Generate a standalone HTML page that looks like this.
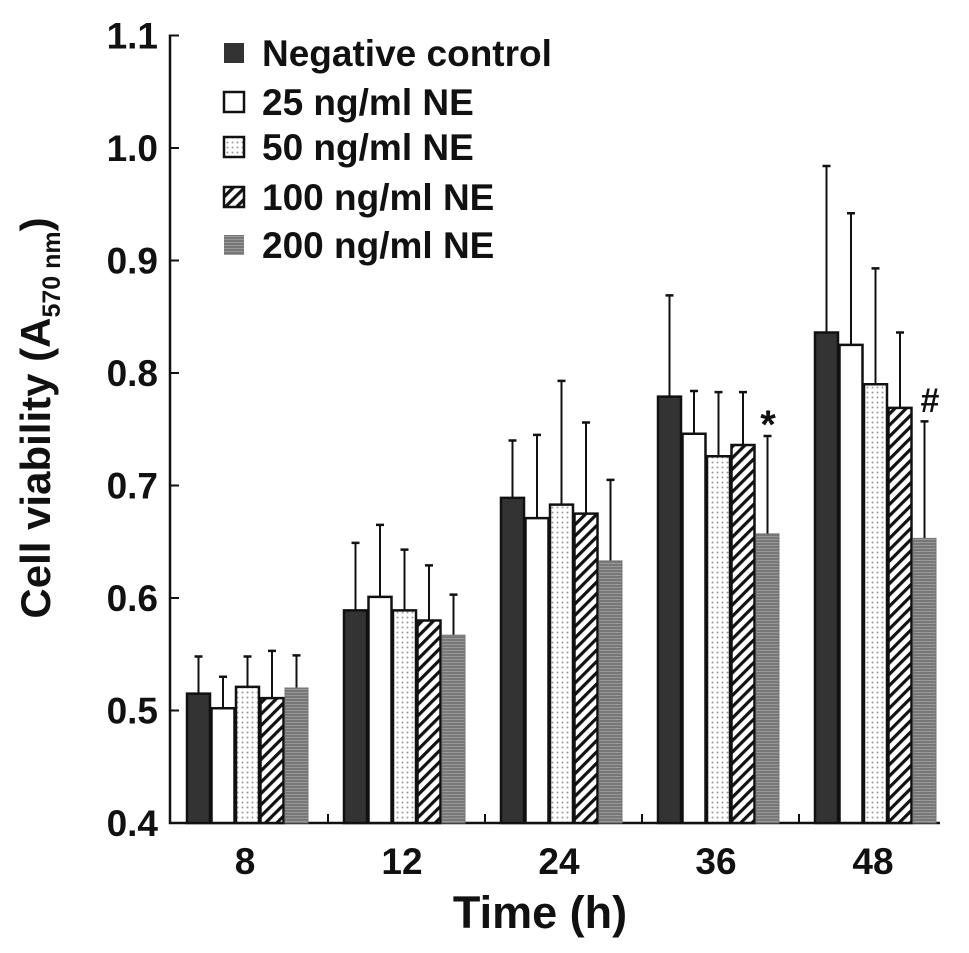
<!DOCTYPE html>
<html><head><meta charset="utf-8"><style>
html,body{margin:0;padding:0;background:#fff;}
svg{display:block;font-family:"Liberation Sans",Arial,sans-serif;font-weight:bold;}
</style></head><body>
<svg id="chart" width="969" height="953" viewBox="0 0 969 953" xmlns="http://www.w3.org/2000/svg">
<defs>
<pattern id="pDots" width="5" height="5" patternUnits="userSpaceOnUse"><rect width="5" height="5" fill="#fff"/><circle cx="2.5" cy="2.5" r="1" fill="#999"/></pattern>
<pattern id="pHatch" width="8" height="8" patternUnits="userSpaceOnUse" patternTransform="rotate(45)"><rect width="8" height="8" fill="#fff"/><rect width="3.2" height="8" fill="#111"/></pattern>
<pattern id="pGray" width="4" height="3" patternUnits="userSpaceOnUse"><rect width="4" height="3" fill="#777"/><rect y="2" width="4" height="1" fill="#999"/></pattern>
</defs>
<g id="axes"></g>
<g id="bars"></g>
<g id="legend"></g>
<text transform="translate(50,418) rotate(-90)" text-anchor="middle" font-size="42" fill="#111">Cell viability (A<tspan font-size="25" dy="10">570 nm</tspan><tspan dy="-10">)</tspan></text>
<text x="540" y="928" text-anchor="middle" font-size="45" fill="#111">Time (h)</text>
<text x="768" y="438" text-anchor="middle" font-size="40" fill="#111">*</text>
<text x="930" y="412" text-anchor="middle" font-size="34" fill="#111">#</text>
</svg>
<script>
const categories = ["8","12","24","36","48"];
const seriesNames = ["Negative control","25 ng/ml NE","50 ng/ml NE","100 ng/ml NE","200 ng/ml NE"];
const negControl = [0.515,0.589,0.689,0.779,0.836];
const ne25 = [0.502,0.601,0.671,0.746,0.825];
const ne50 = [0.521,0.589,0.683,0.726,0.790];
const ne100 = [0.511,0.580,0.675,0.736,0.769];
const ne200 = [0.520,0.567,0.633,0.657,0.653];
const errNeg = [0.548,0.649,0.740,0.869,0.984];
const err25 = [0.530,0.665,0.745,0.784,0.942];
const err50 = [0.548,0.643,0.793,0.783,0.893];
const err100 = [0.553,0.629,0.756,0.783,0.836];
const err200 = [0.549,0.603,0.705,0.744,0.757];
const yTicks = ["0.4","0.5","0.6","0.7","0.8","0.9","1.0","1.1"];

const NS="http://www.w3.org/2000/svg";
const series=[negControl,ne25,ne50,ne100,ne200];
const errs=[errNeg,err25,err50,err100,err200];
const fills=["#333","#fff","url(#pDots)","url(#pHatch)","url(#pGray)"];
const names=["negative-control","ne-25","ne-50","ne-100","ne-200"];
const x0=170, yBase=823, pxPer=1125;
function y(v){return yBase-(v-0.4)*pxPer;}
function groupX(i){return 187+i*157;}
function mk(tag,attrs,parent){const e=document.createElementNS(NS,tag);for(const k in attrs)e.setAttribute(k,attrs[k]);parent.appendChild(e);return e;}
const axes=document.getElementById('axes'),bars=document.getElementById('bars'),legend=document.getElementById('legend');
let a=mk('line',{x1:x0,y1:y(1.1)-1,x2:x0,y2:yBase+1,stroke:'#111','stroke-width':2.5},axes);


a=mk('line',{x1:x0-1,y1:yBase,x2:940,y2:yBase,stroke:'#111','stroke-width':2.5},axes);


yTicks.forEach(t=>{
  const v=parseFloat(t);
  mk('line',{x1:x0,y1:y(v),x2:x0+9,y2:y(v),stroke:'#111','stroke-width':2},axes);
  const tx=mk('text',{x:158,y:y(v)+13,'text-anchor':'end','font-size':37,fill:'#111'},axes);
  tx.textContent=t;
  
  
});
categories.forEach((c,i)=>{
  const gx=groupX(i);
  if(i>0) mk('line',{x1:gx-16,y1:yBase,x2:gx-16,y2:yBase-9,stroke:'#111','stroke-width':2},axes);
  const tx=mk('text',{x:gx+58,y:874,'text-anchor':'middle','font-size':37,fill:'#111'},axes);
  tx.textContent=c;
  
  
});
categories.forEach((c,i)=>{
  series.forEach((s,j)=>{
    const bx=groupX(i)+j*24.5, w=23, top=y(s[i]);
    const cx=bx+w/2, et=y(errs[j][i]);
    const el=mk('line',{x1:cx,y1:top,x2:cx,y2:et,stroke:'#111','stroke-width':2},bars);
    
    
    mk('line',{x1:cx-4,y1:et,x2:cx+4,y2:et,stroke:'#111','stroke-width':2.5},bars);
    const r=mk('rect',{x:bx,y:top,width:w,height:yBase-top,fill:fills[j],stroke:j==4?'#777':'#111','stroke-width':j==4?1:2.5},bars);
    
    
  });
});
seriesNames.forEach((n,j)=>{
  const cy=[53,102,147,197,245][j];
  const r=mk('rect',{x:224,y:cy-10,width:20,height:20,fill:fills[j],stroke:j==4?'none':'#111','stroke-width':j==0?0:2.5},legend);
  
  
  const t=mk('text',{x:262,y:cy+13,'font-size':37,fill:'#111'},legend);
  t.textContent=n;
  
  
});
</script>
</body></html>
